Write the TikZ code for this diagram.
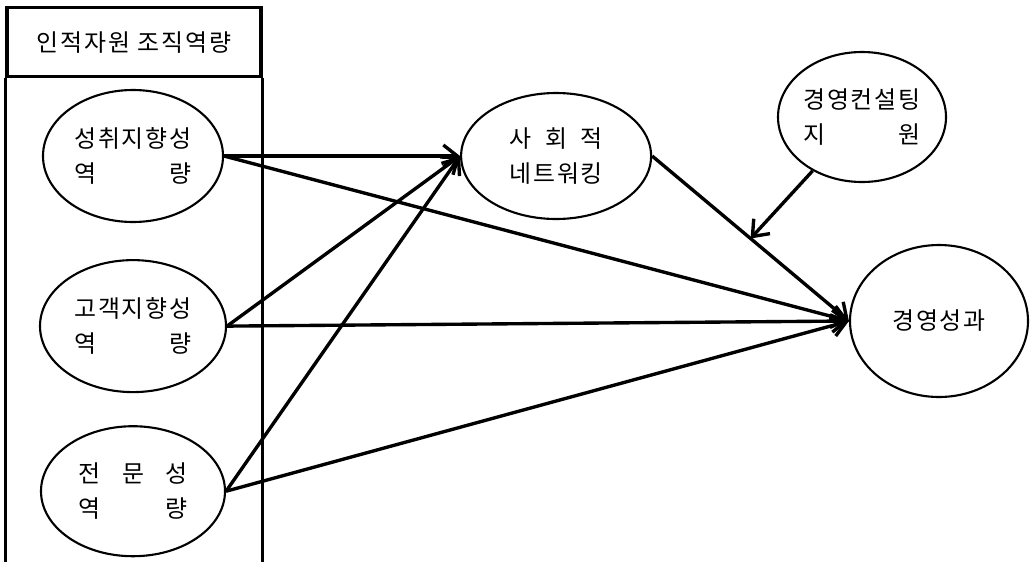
\documentclass[tikz,border=0pt]{standalone}
\usepackage{fontspec}
\usepackage{calc}
\setmainfont{Noto Sans CJK KR}[LetterSpace=8]
\usetikzlibrary{arrows.meta,positioning,calc,shapes.geometric}
\newcommand\spreadline[2]{\makebox[\widthof{#1}]{#2}}
\tikzset{
  fac/.style={draw, ellipse, line width=1.5pt, align=center, inner sep=0pt, font=\fontsize{17}{25}\selectfont},
  hdr/.style={draw, line width=2.2pt, minimum width=6.35cm, minimum height=1.725cm, inner sep=0pt, font=\fontsize{17}{25}\selectfont},
  arr/.style={-{Straight Barb[length=3.5mm,width=5.5mm]}, line width=2.4pt},
}
\begin{document}
\begin{tikzpicture}
\useasboundingbox (0,0) rectangle (25.775,-14.05);
% left block: competences
\node[hdr] (title) at (3.35,-1.06) {인적자원 조직역량};
\coordinate (bot) at (0,-14.05);
\draw[line width=2.2pt] (title.south west) -- (title.south west |- bot);
\draw[line width=2.2pt] (title.south east) -- (title.south east |- bot);
\node[fac, minimum width=4.5cm, minimum height=3.3cm] (ach) at (3.325,-3.9) {성취지향성\\\spreadline{성취지향성}{역\hfill 량}};
\node[fac, minimum width=4.65cm, minimum height=3.3cm, below=9mm of ach] (cust) {고객지향성\\\spreadline{고객지향성}{역\hfill 량}};
\node[fac, minimum width=4.6cm, minimum height=3.25cm, below=8mm of cust] (expt) {\makebox[4.6em]{전\hfill 문\hfill 성}\\\makebox[4.6em]{역\hfill 량}};
% mediator, moderator, outcome
\node[fac, minimum width=4.75cm, minimum height=3.15cm, right=5.9cm of ach] (net) {\spreadline{네트워킹}{사\hfill 회\hfill 적}\\네트워킹};
\node[fac, minimum width=4.2cm, minimum height=3.25cm] (cons) at (21.55,-2.925) {경영컨설팅\\\spreadline{경영컨설팅}{지\hfill 원}};
\node[fac, minimum width=4.45cm, minimum height=3.8cm] (perf) at (23.475,-8.025) {경영성과};
\coordinate (meet) at ($(net.east)!0.5!(perf.west)$);
\draw[arr] (ach.east) -- (net.west);
\draw[arr] (cust.east) -- (net.west);
\draw[arr] (expt.east) -- (net.west);
\draw[arr] (ach.east) -- (perf.west);
\draw[arr] (cust.east) -- (perf.west);
\draw[arr] (expt.east) -- (perf.west);
\draw[arr] (net.east) -- (perf.west);
\draw[arr] (cons) -- (meet);
\end{tikzpicture}
\end{document}
